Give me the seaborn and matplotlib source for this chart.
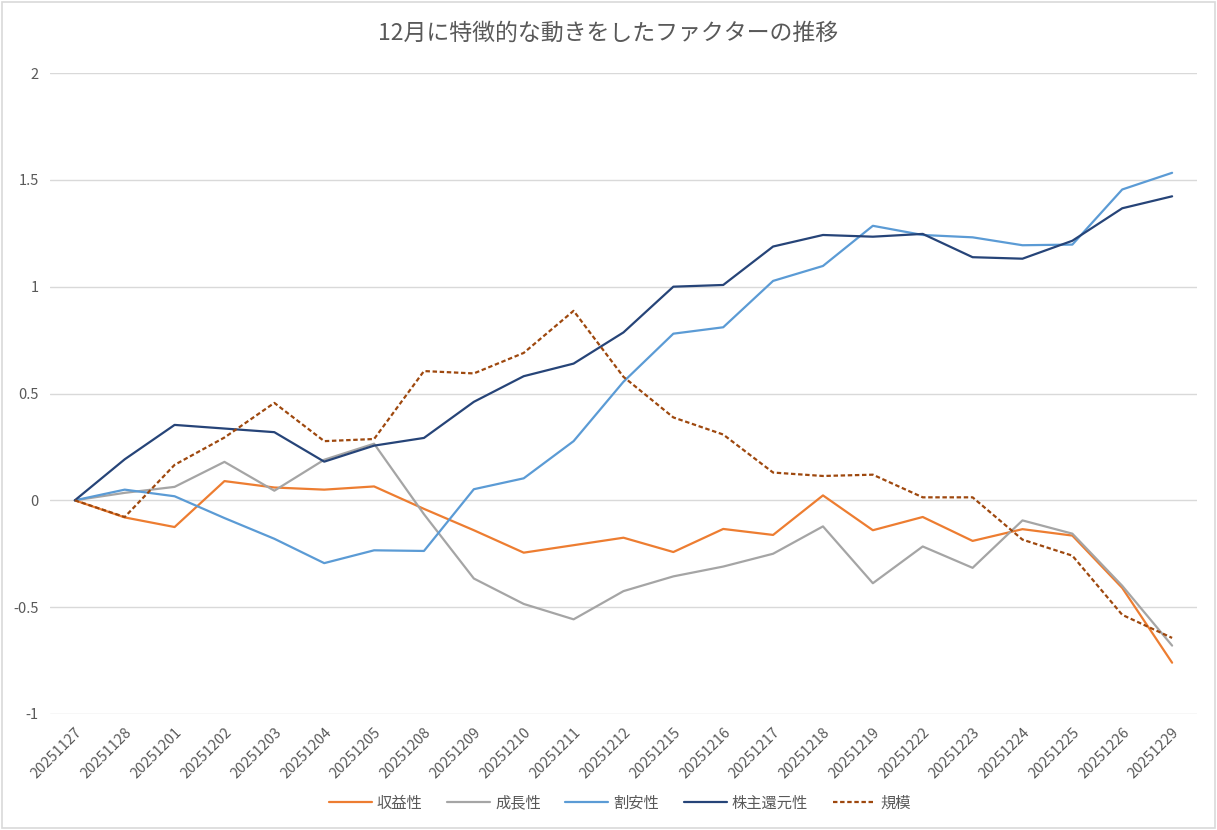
import matplotlib

matplotlib.use("Agg")
import matplotlib.pyplot as plt
import seaborn as sns
import numpy as np
import pandas as pd

# --- データ ---
dates = [
    "20251127", "20251128", "20251201", "20251202", "20251203", "20251204",
    "20251205", "20251208", "20251209", "20251210", "20251211", "20251212",
    "20251215", "20251216", "20251217", "20251218", "20251219", "20251222",
    "20251223", "20251224", "20251225", "20251226", "20251229",
]

profitability = [0, -0.08, -0.125, 0.09, 0.06, 0.05, 0.065, -0.04, -0.14, -0.245,
                 -0.21, -0.175, -0.242, -0.134, -0.162, 0.023, -0.14, -0.078,
                 -0.19, -0.135, -0.165, -0.41, -0.76]
growth = [0, 0.035, 0.063, 0.18, 0.045, 0.19, 0.265, -0.065, -0.366, -0.485,
          -0.557, -0.425, -0.356, -0.31, -0.25, -0.122, -0.388, -0.216, -0.316,
          -0.094, -0.156, -0.4, -0.68]
value = [0, 0.05, 0.019, -0.083, -0.18, -0.294, -0.234, -0.237, 0.052, 0.103,
         0.277, 0.555, 0.78, 0.81, 1.027, 1.097, 1.285, 1.242, 1.231, 1.194,
         1.197, 1.455, 1.533]
shareholder = [0, 0.192, 0.353, 0.336, 0.319, 0.181, 0.256, 0.292, 0.461, 0.581,
               0.64, 0.786, 1.0, 1.008, 1.188, 1.242, 1.234, 1.247, 1.138, 1.131,
               1.215, 1.367, 1.423]
size = [0, -0.078, 0.166, 0.294, 0.456, 0.277, 0.287, 0.605, 0.594, 0.69, 0.887,
        0.578, 0.388, 0.308, 0.13, 0.114, 0.12, 0.014, 0.014, -0.184, -0.259,
        -0.536, -0.644]

series_names = ["収益性", "成長性", "割安性", "株主還元性", "規模"]
series_values = [profitability, growth, value, shareholder, size]
colors = ["#ED7D31", "#A5A5A5", "#5B9BD5", "#264478", "#9E480E"]
styles = ["-", "-", "-", "-", (0, (2, 1.2))]

y_ticks = [-1, -0.5, 0, 0.5, 1, 1.5, 2]
y_labels = ["-1", "-0.5", "0", "0.5", "1", "1.5", "2"]

TEXT = "#595959"

sns.set_theme(style="white")
plt.rcParams["font.family"] = ["Noto Sans CJK JP", "DejaVu Sans"]

fig = plt.figure(figsize=(12.17, 8.30), dpi=100)
ax = fig.add_axes([0.041, 0.1398, 0.9426, 0.7722])

x = np.arange(len(dates))
for name, vals, c, ls in zip(series_names, series_values, colors, styles):
    df = pd.DataFrame({"x": x, "y": vals})
    sns.lineplot(data=df, x="x", y="y", ax=ax, color=c, linewidth=1.6,
                 label=name, linestyle=ls)

ax.set_xlim(-0.5, len(dates) - 0.5)
ax.set_ylim(-1, 2)
ax.set_yticks(y_ticks)
ax.set_yticklabels(y_labels, color=TEXT, fontsize=10.5)
ax.set_xticks(x)
ax.set_xticklabels(dates, rotation=45, ha="right", rotation_mode="anchor",
                   color=TEXT, fontsize=10.5)
ax.tick_params(axis="both", length=0)
ax.tick_params(axis="y", pad=8)
ax.tick_params(axis="x", pad=8)
ax.set_xlabel("")
ax.set_ylabel("")
for s in ax.spines.values():
    s.set_visible(False)
ax.grid(axis="y", color="#D9D9D9", linewidth=1.0)
ax.set_axisbelow(True)

fig.text(0.5, 0.96, "12月に特徴的な動きをしたファクターの推移", ha="center",
         va="center", fontsize=16.5, color=TEXT)

leg = ax.legend(loc="center", bbox_to_anchor=(0.497, -0.139), ncol=5, frameon=False,
                fontsize=11, handlelength=2.8, columnspacing=1.6, handletextpad=0.35)
for t in leg.get_texts():
    t.set_color(TEXT)

# 外枠
fig.patches.append(plt.Rectangle((0.002, 0.002), 0.996, 0.996, transform=fig.transFigure,
                                 fill=False, edgecolor="#D9D9D9", linewidth=1.2))

fig.savefig("out.png", dpi=100, facecolor="white")
